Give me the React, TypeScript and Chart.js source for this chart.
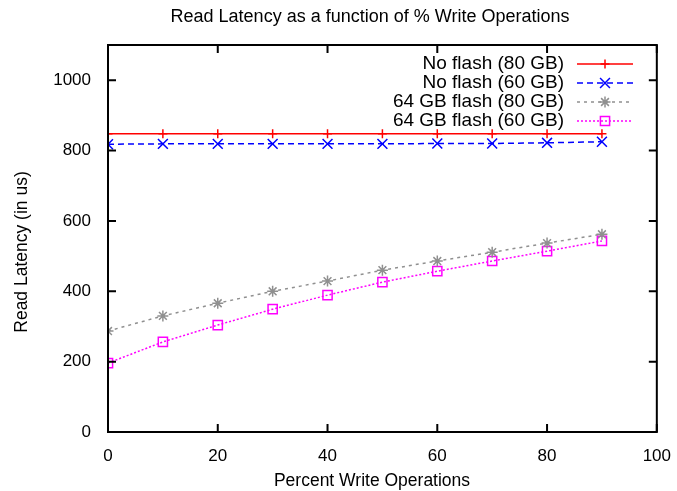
import React, { useEffect, useRef } from "react";
import { Chart, registerables } from "chart.js";
import { drawPoint } from "chart.js/helpers";

Chart.register(...registerables);

const percentWrites = [0, 10, 20, 30, 40, 50, 60, 70, 80, 90];
const noFlash80 = [848, 848, 848, 848, 848, 848, 848, 848, 848, 848];
const noFlash60 = [818, 819, 819, 819, 819, 819, 820, 820, 822, 825];
const flash64_80 = [287, 330, 366, 400, 429, 460, 486, 511, 537, 562];
const flash64_60 = [196, 256, 304, 349, 389, 426, 457, 486, 514, 543];
const seriesNames = ["No flash (80 GB)", "No flash (60 GB)", "64 GB flash (80 GB)", "64 GB flash (60 GB)"];
const xTicks = [0, 20, 40, 60, 80, 100];
const yTicks = [0, 200, 400, 600, 800, 1000];
const titleText = "Read Latency as a function of % Write Operations";
const xTitle = "Percent Write Operations";
const yTitle = "Read Latency (in us)";

const FONT = "'Liberation Sans', Arial, sans-serif";

const styles = [
  { color: "#ff0000", dash: [] as number[], point: "cross", radius: 4.5, width: 1.5 },
  { color: "#0000ff", dash: [6, 4], point: "crossRot", radius: 7, width: 1.5 },
  { color: "#909090", dash: [3, 4], point: "star", radius: 5.5, width: 1.5 },
  { color: "#ff00ff", dash: [2, 2], point: "rect", radius: 6.5, width: 1.5 },
];

const framePlugin = {
  id: "frame",
  afterDraw(chart: any) {
    const { ctx, chartArea: a, scales } = chart;
    const xs = scales.x, ys = scales.y;
    ctx.save();
    ctx.strokeStyle = "#000";
    ctx.lineWidth = 2;
    ctx.setLineDash([]);
    ctx.strokeRect(a.left, a.top, a.right - a.left, a.bottom - a.top);
    const tl = 8;
    ctx.beginPath();
    xTicks.forEach((v) => {
      const px = xs.getPixelForValue(v);
      ctx.moveTo(px, a.bottom); ctx.lineTo(px, a.bottom - tl);
      ctx.moveTo(px, a.top); ctx.lineTo(px, a.top + tl);
    });
    yTicks.forEach((v) => {
      const py = ys.getPixelForValue(v);
      ctx.moveTo(a.left, py); ctx.lineTo(a.left + tl, py);
      ctx.moveTo(a.right, py); ctx.lineTo(a.right - tl, py);
    });
    ctx.stroke();

    // titles
    ctx.fillStyle = "#000";
    ctx.textAlign = "center";
    ctx.textBaseline = "middle";
    ctx.font = `18px ${FONT}`;
    ctx.fillText(titleText, 370, 17);
    ctx.font = `17.5px ${FONT}`;
    ctx.fillText(xTitle, 372, 481);
    ctx.save();
    ctx.translate(22, 252);
    ctx.rotate(-Math.PI / 2);
    ctx.fillText(yTitle, 0, 0);
    ctx.restore();

    // legend
    const textRight = 564, lx0 = 577, lx1 = 633;
    const rowsY = [64, 83, 102, 121];
    ctx.font = `19px ${FONT}`;
    ctx.textAlign = "right";
    seriesNames.forEach((name, i) => {
      const st = styles[i];
      const y = rowsY[i];
      ctx.fillStyle = "#000";
      ctx.fillText(name, textRight, y);
      ctx.strokeStyle = st.color;
      ctx.lineWidth = st.width;
      ctx.setLineDash(st.dash);
      ctx.beginPath();
      ctx.moveTo(lx0, y); ctx.lineTo(lx1, y);
      ctx.stroke();
      ctx.setLineDash([]);
      ctx.fillStyle = "rgba(0,0,0,0)";
      ctx.strokeStyle = st.color;
      ctx.lineWidth = 1.5;
      drawPoint(ctx, { pointStyle: st.point, radius: st.radius, rotation: 0, borderWidth: 1.5 } as any, (lx0 + lx1) / 2, y);
    });
    ctx.restore();
  },
};

export default function App() {
  const ref = useRef<HTMLCanvasElement>(null);
  useEffect(() => {
    document.body.style.margin = "0";
    const data = [noFlash80, noFlash60, flash64_80, flash64_60];
    const chart = new Chart(ref.current!, {
      type: "line",
      data: {
        labels: percentWrites,
        datasets: data.map((vals, i) => ({
          label: seriesNames[i],
          data: percentWrites.map((x, j) => ({ x, y: vals[j] })),
          borderColor: styles[i].color,
          backgroundColor: "transparent",
          borderWidth: styles[i].width,
          borderDash: styles[i].dash,
          pointStyle: styles[i].point as any,
          pointRadius: styles[i].radius,
          pointBorderColor: styles[i].color,
          pointBackgroundColor: "transparent",
          pointBorderWidth: 1.5,
          tension: 0,
          fill: false,
        })),
      },
      options: {
        animation: false,
        responsive: false,
        layout: { padding: { top: 45, right: 19, left: 0, bottom: 0 } },
        plugins: { legend: { display: false }, title: { display: false }, tooltip: { enabled: false } },
        scales: {
          x: {
            type: "linear",
            min: 0,
            max: 100,
            grid: { display: false },
            border: { display: false },
            afterBuildTicks: (s: any) => { s.ticks = xTicks.map((v) => ({ value: v })); },
            ticks: { color: "#000", font: { size: 17, family: FONT }, padding: 6, maxRotation: 0, callback: (v: any) => String(v) },
            title: { display: false },
            afterFit: (s: any) => { s.height = 59; },
          },
          y: {
            min: 0,
            max: 1100,
            grid: { display: false },
            border: { display: false },
            afterBuildTicks: (s: any) => { s.ticks = yTicks.map((v) => ({ value: v })); },
            ticks: { color: "#000", font: { size: 17, family: FONT }, padding: 9, callback: (v: any) => String(v) },
            title: { display: false },
            afterFit: (s: any) => { s.width = 108; },
          },
        },
      },
      plugins: [framePlugin],
    });
    return () => chart.destroy();
  }, []);
  return (
    <div style={{ position: "absolute", left: 0, top: 0, width: 677, height: 491, background: "#fff" }}>
      <canvas ref={ref} width={677} height={491} style={{ width: 677, height: 491 }} />
    </div>
  );
}
